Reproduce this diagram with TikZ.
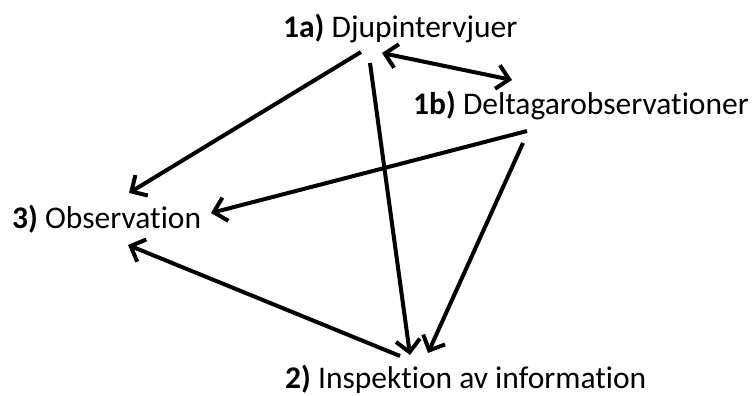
\documentclass[tikz,border=0pt]{standalone}
\usepackage{fontspec}
\setmainfont{Carlito}[RawFeature=-liga]
\usetikzlibrary{arrows.meta}
\begin{document}
\begin{tikzpicture}[x=1pt,y=1pt,
  label/.style={anchor=base west,inner sep=0pt,font=\fontsize{31.5}{36}\selectfont},
  tip/.tip={Straight Barb[length=12pt,width=24pt,line width=4pt]},
  link/.style={line width=4pt,-tip},
  twoway/.style={line width=4pt,tip-tip}]
  \useasboundingbox (0,0) rectangle (753,396);

  % labels
  \node[label] (intv) at (283,358) {\textbf{1a)} Djupintervjuer};
  \node[label] (delt) at (413,281) {\textbf{1b)} Deltagarobservationer};
  \node[label] (obs)  at (12,167)  {\textbf{3)} Observation};
  \node[label] (insp) at (285,7)   {\textbf{2)} Inspektion av information};

  % connector end points around the labels
  \coordinate (intvA) at (361,344);
  \coordinate (intvB) at (370,333);
  \coordinate (intvC) at (382,343);
  \coordinate (deltA) at (512,316);
  \coordinate (deltB) at (527,265);
  \coordinate (deltC) at (523,253);
  \coordinate (obsA)  at (129,203);
  \coordinate (obsB)  at (211,183);
  \coordinate (obsC)  at (128,151);
  \coordinate (inspA) at (410,41);
  \coordinate (inspB) at (428,43);
  \coordinate (inspC) at (400,40);

  % connectors
  \draw[link] (intvA) -- (obsA);
  \draw[link] (intvB) -- (inspA);
  \draw[twoway] (intvC) -- (deltA);
  \draw[link] (deltB) -- (obsB);
  \draw[link] (deltC) -- (inspB);
  \draw[link] (inspC) -- (obsC);
\end{tikzpicture}
\end{document}
